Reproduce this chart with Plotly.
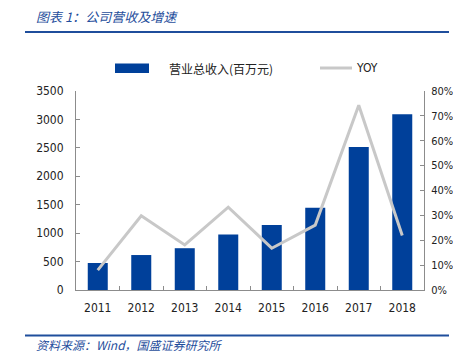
import plotly.graph_objects as go

years = ["2011", "2012", "2013", "2014", "2015", "2016", "2017", "2018"]
revenue = [475, 615, 735, 975, 1145, 1445, 2515, 3090]
yoy = [8.0, 29.8, 18.1, 33.3, 16.8, 26.1, 74.3, 21.9]

left_ticks = [0, 500, 1000, 1500, 2000, 2500, 3000, 3500]
right_ticks = [0, 10, 20, 30, 40, 50, 60, 70, 80]
right_labels = [f"{v}%" for v in right_ticks]

W, H = 453, 360
L, R, T, B = 76, 424, 91, 290

def px(x):
    return (x - L) / (R - L)

def py(y):
    return (B - y) / (B - T)

BLUE = "#00409a"
GRAY = "#c8c8c8"
TITLE_BLUE = "#1f4e9c"
AX = "#8c8c8c"
NUM_FONT = "DejaVu Sans Condensed, DejaVu Sans, sans-serif"
CJK = "Noto Sans CJK SC, sans-serif"

fig = go.Figure()
fig.add_trace(go.Bar(x=years, y=revenue, name="营业总收入(百万元)",
                     marker=dict(color=BLUE, line=dict(width=0)), yaxis="y"))
fig.add_trace(go.Scatter(x=years, y=yoy, name="YOY", mode="lines",
                         line=dict(color=GRAY, width=3), yaxis="y2"))

fig.update_layout(
    width=W, height=H,
    margin=dict(l=L, r=W - R, t=T, b=H - B, pad=0, autoexpand=False),
    paper_bgcolor="white", plot_bgcolor="white",
    showlegend=False,
    bargap=0.54,
    font=dict(family=NUM_FONT, size=12, color="#222222"),
    xaxis=dict(showgrid=False, showline=True, linecolor=AX, linewidth=1,
               ticks="inside", ticklen=4, tickcolor=AX, tickson="boundaries",
               tickfont=dict(size=12, family=NUM_FONT), zeroline=False,
               automargin=False, ticklabelstandoff=7),
    yaxis=dict(range=[0, 3500], tickvals=left_ticks, showgrid=False,
               showline=True, linecolor=AX, linewidth=1, ticks="inside",
               ticklen=4, tickcolor=AX, zeroline=False, ticklabelstandoff=9,
               tickfont=dict(size=12, family=NUM_FONT), automargin=False),
    yaxis2=dict(range=[0, 80], tickvals=right_ticks, ticktext=right_labels,
                overlaying="y", side="right", showgrid=False, showline=True,
                linecolor=AX, linewidth=1, ticks="inside", ticklen=4,
                tickcolor=AX, zeroline=False, ticklabelstandoff=4,
                tickfont=dict(size=11, family=NUM_FONT), automargin=False),
)

shapes = [
    dict(type="line", xref="paper", yref="paper", x0=px(25), x1=px(449),
         y0=py(32), y1=py(32), line=dict(color=TITLE_BLUE, width=2)),
    dict(type="line", xref="paper", yref="paper", x0=px(25), x1=px(449),
         y0=py(335.5), y1=py(335.5), line=dict(color=TITLE_BLUE, width=2)),
    dict(type="rect", xref="paper", yref="paper", x0=px(115), x1=px(149),
         y0=py(73), y1=py(63.5), fillcolor=BLUE, line=dict(width=0)),
    dict(type="line", xref="paper", yref="paper", x0=px(320), x1=px(352),
         y0=py(68), y1=py(68), line=dict(color=GRAY, width=3)),
]
fig.update_layout(shapes=shapes)

anns = [
    dict(text="<i>图表 1：公司营收及增速</i>", x=px(34), y=py(17), xanchor="left",
         yanchor="middle", font=dict(family=CJK, size=13, color=TITLE_BLUE)),
    dict(text="<i>资料来源：Wind，国盛证券研究所</i>", x=px(34), y=py(344.5),
         xanchor="left", yanchor="middle",
         font=dict(family=CJK, size=12, color=TITLE_BLUE)),
    dict(text="营业总收入(百万元)", x=px(167), y=py(68), xanchor="left",
         yanchor="middle", font=dict(family=CJK, size=12, color="#222222")),
    dict(text="YOY", x=px(354), y=py(68), xanchor="left", yanchor="middle",
         font=dict(family=NUM_FONT, size=12, color="#222222")),
]
for a in anns:
    a.update(xref="paper", yref="paper", showarrow=False)
fig.update_layout(annotations=anns)

fig.write_html("out.html",
               config={"displayModeBar": False},
               post_script="document.body.style.margin='0';"
                           "document.body.style.overflow='hidden';")
